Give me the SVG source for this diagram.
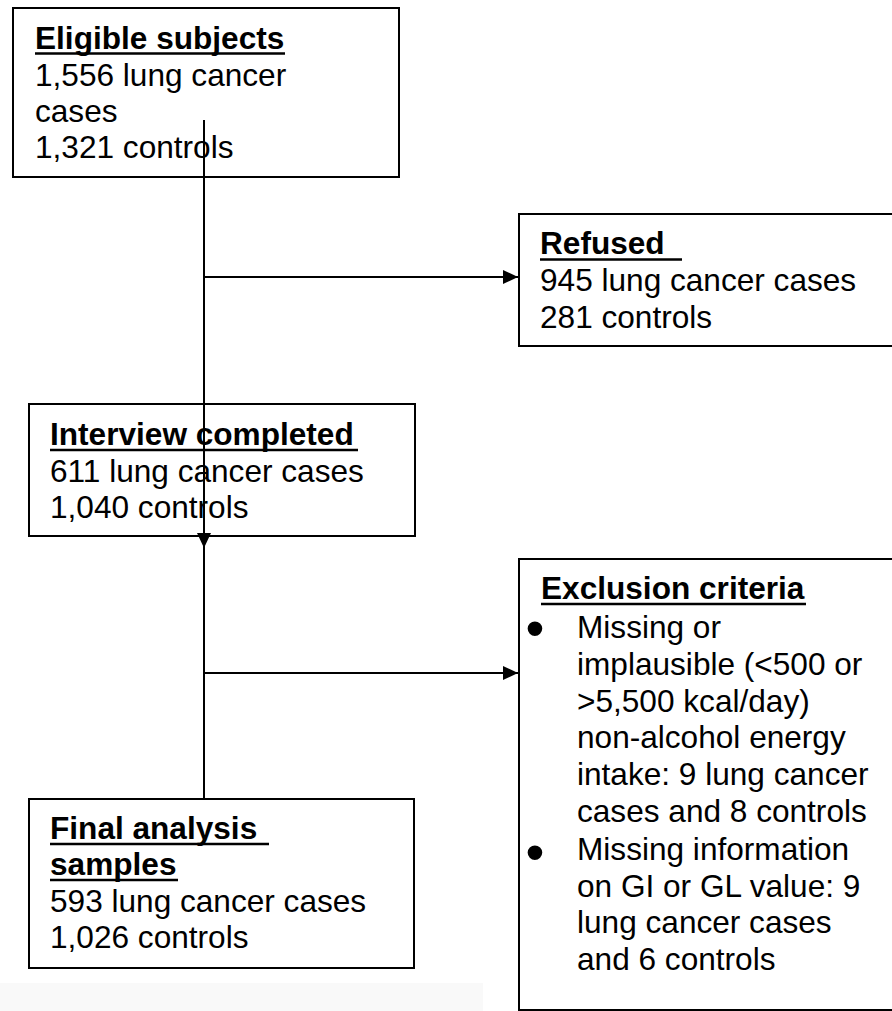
<svg xmlns="http://www.w3.org/2000/svg" width="892" height="1011" viewBox="0 0 892 1011">
  <style>
    .box { fill: #ffffff; stroke: #000000; stroke-width: 2; }
    .t { font-family: "Liberation Sans", Arial, sans-serif; font-size: 31.6px; fill: #000000; }
    .h { font-weight: bold; }
    .ul { stroke: #000000; stroke-width: 2.5; }
    .conn { stroke: #000000; stroke-width: 2; fill: none; }
    .bul { font-family: "Liberation Sans", Arial, sans-serif; font-size: 54px; fill: #000000; }
  </style>
  <defs>
    <marker id="arrow" markerUnits="userSpaceOnUse" markerWidth="15" markerHeight="14" refX="15" refY="7" orient="auto">
      <path d="M0,0 L15,7 L0,14 z" fill="#000000"/>
    </marker>
  </defs>
  <rect x="0" y="983" width="483" height="28" fill="#f9f9f9"/>

  <g id="eligible">
    <rect class="box" x="13" y="8" width="386" height="169"/>
    <text class="t h" x="35" y="49">Eligible subjects</text>
    <line class="ul" x1="35" y1="53.5" x2="285" y2="53.5"/>
    <text class="t" x="35" y="86">1,556 lung cancer</text>
    <text class="t" x="35" y="122">cases</text>
    <text class="t" x="35" y="158">1,321 controls</text>
  </g>

  <g id="refused">
    <rect class="box" x="519" y="214" width="400" height="132"/>
    <text class="t h" x="540" y="254">Refused</text>
    <line class="ul" x1="540" y1="259.5" x2="682" y2="259.5"/>
    <text class="t" x="540" y="291">945 lung cancer cases</text>
    <text class="t" x="540" y="328">281 controls</text>
  </g>

  <g id="interview">
    <rect class="box" x="29" y="404" width="386" height="132"/>
    <text class="t h" x="50" y="445">Interview completed</text>
    <line class="ul" x1="50" y1="450" x2="358" y2="450"/>
    <text class="t" x="50" y="482">611 lung cancer cases</text>
    <text class="t" x="50" y="518">1,040 controls</text>
  </g>

  <g id="exclusion">
    <rect class="box" x="519" y="559" width="400" height="451"/>
    <text class="t h" x="541" y="599">Exclusion criteria</text>
    <line class="ul" x1="541" y1="604" x2="806" y2="604"/>
    <text class="bul" x="535" y="647" text-anchor="middle">•</text>
    <text class="t" x="577" y="638">Missing or</text>
    <text class="t" x="577" y="675">implausible (&lt;500 or</text>
    <text class="t" x="577" y="712">&gt;5,500 kcal/day)</text>
    <text class="t" x="577" y="748">non-alcohol energy</text>
    <text class="t" x="577" y="785">intake: 9 lung cancer</text>
    <text class="t" x="577" y="822">cases and 8 controls</text>
    <text class="bul" x="535" y="871" text-anchor="middle">•</text>
    <text class="t" x="577" y="860">Missing information</text>
    <text class="t" x="577" y="897">on GI or GL value: 9</text>
    <text class="t" x="577" y="933">lung cancer cases</text>
    <text class="t" x="577" y="970">and 6 controls</text>
  </g>

  <g id="final">
    <rect class="box" x="29" y="799" width="385" height="169"/>
    <text class="t h" x="50" y="839">Final analysis</text>
    <line class="ul" x1="50" y1="844" x2="269" y2="844"/>
    <text class="t h" x="50" y="875">samples</text>
    <line class="ul" x1="50" y1="880" x2="178" y2="880"/>
    <text class="t" x="50" y="912">593 lung cancer cases</text>
    <text class="t" x="50" y="948">1,026 controls</text>
  </g>

  <g id="connectors">
    <line class="conn" x1="204" y1="120" x2="204" y2="548" marker-end="url(#arrow)"/>
    <line class="conn" x1="204" y1="547" x2="204" y2="799"/>
    <line class="conn" x1="204" y1="277" x2="518" y2="277" marker-end="url(#arrow)"/>
    <line class="conn" x1="204" y1="673" x2="518" y2="673" marker-end="url(#arrow)"/>
  </g>
</svg>
